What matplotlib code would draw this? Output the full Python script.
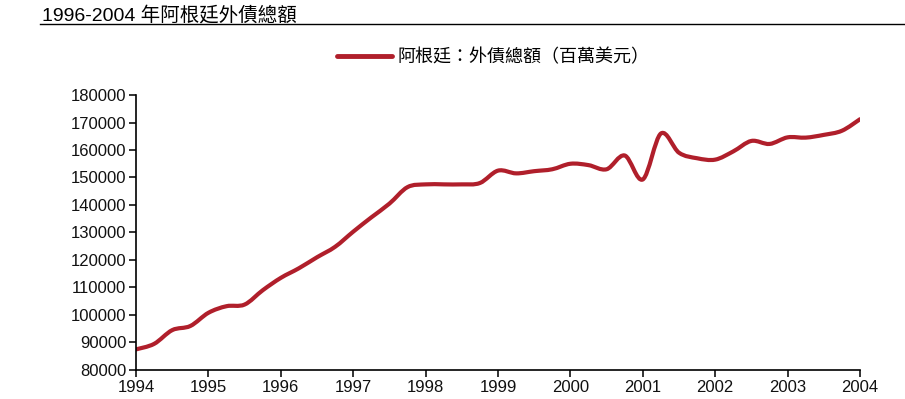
import matplotlib.pyplot as plt
from matplotlib.path import Path
from matplotlib.patches import PathPatch
from matplotlib.lines import Line2D

plt.rcParams['font.family'] = ['Liberation Sans', 'Noto Sans CJK TC', 'DejaVu Sans']

# quarterly data
quarters = [1994.00, 1994.25, 1994.50, 1994.75, 1995.00, 1995.25, 1995.50, 1995.75,
            1996.00, 1996.25, 1996.50, 1996.75, 1997.00, 1997.25, 1997.50, 1997.75,
            1998.00, 1998.25, 1998.50, 1998.75, 1999.00, 1999.25, 1999.50, 1999.75,
            2000.00, 2000.25, 2000.50, 2000.75, 2001.00, 2001.25, 2001.50, 2001.75,
            2002.00, 2002.25, 2002.50, 2002.75, 2003.00, 2003.25, 2003.50, 2003.75,
            2004.00]
debt = [87500, 89500, 94500, 96000, 100800, 103200, 103800, 109000,
        113500, 117000, 121000, 124800, 130300, 135500, 140500, 146500,
        147500, 147500, 147500, 148000, 152500, 151500, 152300, 153000,
        155000, 154500, 153000, 158000, 149300, 166000, 159000, 157000,
        156500, 159500, 163300, 162200, 164600, 164500, 165500, 167000,
        171200]
years = list(range(1994, 2005))
yticks = list(range(80000, 180001, 10000))

title = '1996-2004 年阿根廷外債總額'
series_name = '阿根廷：外債總額（百萬美元）'
red = '#B01F2B'

fig = plt.figure(figsize=(9.05, 3.99), dpi=100)
ax = fig.add_axes([0.1503, 0.0727, 0.80, 0.6892])

# smoothed line like Excel (catmull-rom -> bezier control points)
verts = [(quarters[0], debt[0])]
codes = [Path.MOVETO]
n = len(quarters)
for i in range(n - 1):
    x0, y0 = quarters[max(i - 1, 0)], debt[max(i - 1, 0)]
    x1, y1 = quarters[i], debt[i]
    x2, y2 = quarters[i + 1], debt[i + 1]
    x3, y3 = quarters[min(i + 2, n - 1)], debt[min(i + 2, n - 1)]
    verts += [(x1 + (x2 - x0) / 6, y1 + (y2 - y0) / 6),
              (x2 - (x3 - x1) / 6, y2 - (y3 - y1) / 6),
              (x2, y2)]
    codes += [Path.CURVE4] * 3
ax.add_patch(PathPatch(Path(verts, codes), fill=False, edgecolor=red, lw=3,
                       joinstyle='round', capstyle='round'))

ax.set_xlim(1994, 2004)
ax.set_ylim(80000, 180000)
ax.set_xticks(years)
ax.set_yticks(yticks)
ax.set_xticklabels([str(y) for y in years], fontsize=12)
ax.set_yticklabels([str(v) for v in yticks], fontsize=12)
ax.spines['top'].set_visible(False)
ax.spines['right'].set_visible(False)
for s in ['left', 'bottom']:
    ax.spines[s].set_linewidth(1.2)
ax.tick_params(direction='out', length=5, width=1.2, pad=2, colors='#111111')

# legend at top
handle = Line2D([], [], color=red, lw=3.5, solid_capstyle='round')
fig.legend([handle], [series_name], loc='center', bbox_to_anchor=(0.545, 0.857),
           frameon=False, handlelength=3.0, handletextpad=0.3,
           prop={'family': ['Noto Sans CJK TC'], 'size': 13})

# title with underline
fig.text(0.046, 0.962, title, fontsize=14, va='center', ha='left',
         family=['Liberation Sans', 'Noto Sans CJK TC'])
fig.add_artist(Line2D([0.044, 1.0], [0.94, 0.94], color='black', lw=1))

fig.savefig('out.png', dpi=100)
